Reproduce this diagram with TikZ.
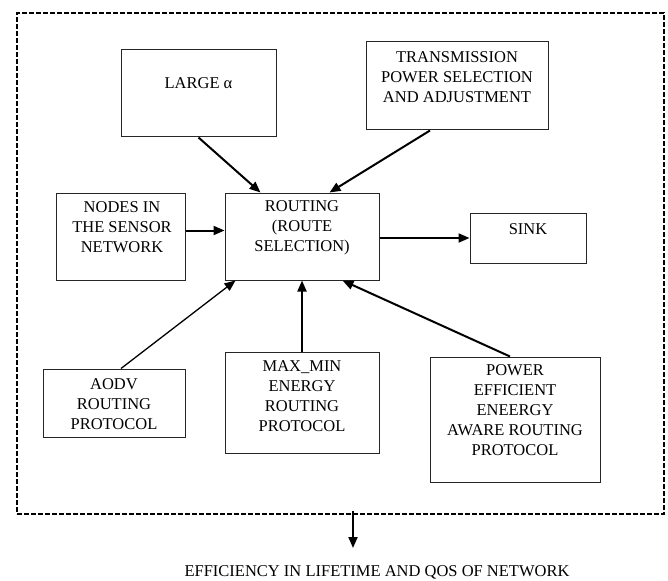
\documentclass[tikz,border=0pt]{standalone}
\usepackage{fontspec}
\setmainfont{Liberation Serif}
\usetikzlibrary{arrows.meta,calc}

\begin{document}
\begin{tikzpicture}[x=1pt,y=-1pt,>={Triangle[length=11pt,width=9pt]},
  box/.style={draw=black!85,line width=1pt,inner sep=0pt},
  txt/.style={align=center,inner sep=0pt,font=\fontsize{16.5}{20}\selectfont},
  link/.style={->,line width=2pt}]
  % page: 668 x 580, y runs downwards
  \useasboundingbox (0,0) rectangle (668,580);
  % dashed frame round the routing block
  \node[draw,line width=1.6pt,dash pattern=on 5pt off 2pt,minimum width=647pt,minimum height=501pt] (frame) at (340.5,263.5) {};
  % boxes
  \node[box,minimum width=155pt,minimum height=87pt] (large) at (198.5,93.5) {};
  \node[box,minimum width=182pt,minimum height=88pt] (trans) at (457,86) {};
  \node[box,minimum width=129pt,minimum height=87pt] (nodes) at (120.5,236.5) {};
  \node[box,minimum width=154pt,minimum height=87pt] (routing) at (302,236.5) {};
  \node[box,minimum width=116pt,minimum height=50pt] (sink) at (528,238) {};
  \node[box,minimum width=142pt,minimum height=68pt] (aodv) at (114,403) {};
  \node[box,minimum width=154pt,minimum height=101pt] (maxmin) at (302,402.5) {};
  \node[box,minimum width=170pt,minimum height=125pt] (power) at (515,419.5) {};
  % box texts
  \node[txt] (largetxt) at (198.5,83) {LARGE α};
  \node[txt] (transtxt) at (457,77) {TRANSMISSION\\POWER SELECTION\\AND ADJUSTMENT};
  \node[txt] (nodestxt) at (122,227) {NODES IN\\THE SENSOR\\NETWORK};
  \node[txt] (routingtxt) at (302,227.5) {ROUTING\\(ROUTE\\SELECTION)};
  \node[txt] (sinktxt) at (528,229) {SINK};
  \node[txt] (aodvtxt) at (114,404) {AODV\\ROUTING\\PROTOCOL};
  \node[txt] (maxmintxt) at (302,396.5) {MAX\_MIN\\ENERGY\\ROUTING\\PROTOCOL};
  \node[txt] (powertxt) at (515,410.5) {POWER\\EFFICIENT\\ENEERGY\\AWARE ROUTING\\PROTOCOL};
  \node[txt] (result) at (377,572) {EFFICIENCY IN LIFETIME AND QOS OF NETWORK};
  % arrows into the routing box
  \draw[link] (large.south) -- ($(routing.north west)+(36,0)$);
  \draw[link] ($(trans.south)+(-27,0)$) -- ($(routing.north west)+(105,0)$);
  \draw[link] ($(nodes.east)+(0,-6)$) -- ($(routing.west)+(0,-6)$);
  \draw[->,line width=1.3pt] ($(aodv.north)+(7,0)$) -- ($(routing.south west)+(11,0)$);
  \draw[link] (maxmin.north) -- (routing.south);
  \draw[link] ($(power.north)+(-5,0)$) -- ($(routing.south west)+(118,0)$);
  % out of the routing box
  \draw[link] (routing.east |- sink.west) -- (sink.west);
  \coordinate (outtip) at (353,548);
  \draw[link] ($(frame.south -| outtip)+(0,-4)$) -- (outtip);
\end{tikzpicture}
\end{document}
